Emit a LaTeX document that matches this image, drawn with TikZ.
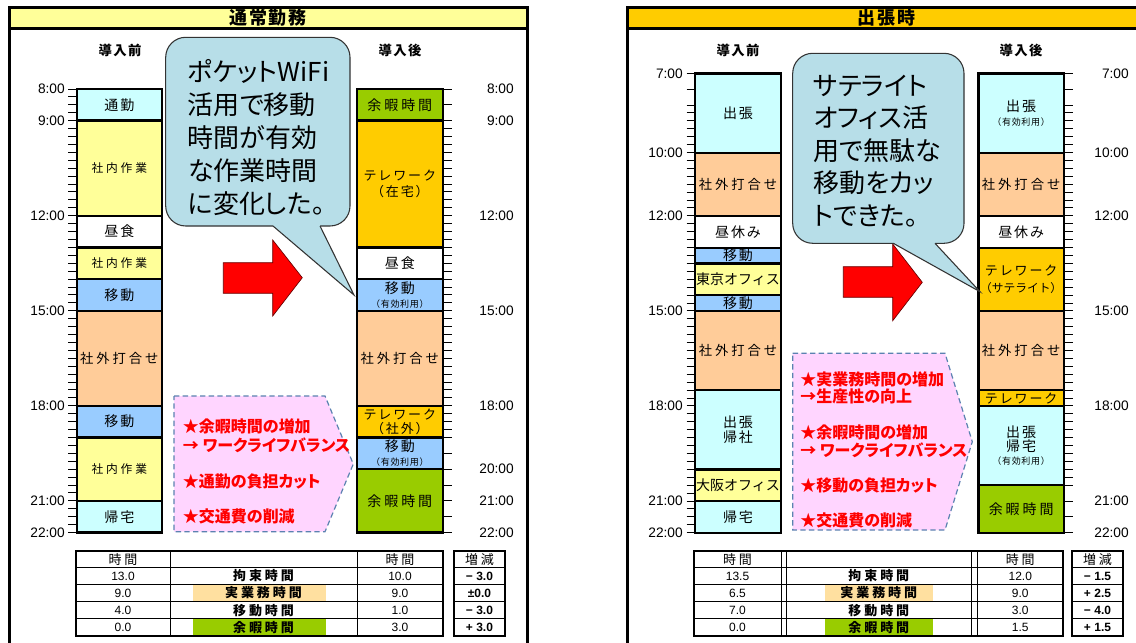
\documentclass[tikz,border=0pt]{standalone}
\usepackage{fontspec}
\setmainfont{Noto Sans CJK JP}
\newfontfamily\jpp[RawFeature=+palt]{Noto Sans CJK JP}
\newfontfamily\lib{Liberation Sans}
\definecolor{cyb}{HTML}{CCFFFF}
\definecolor{ylb}{HTML}{FFFF99}
\definecolor{blb}{HTML}{99CCFF}
\definecolor{peb}{HTML}{FFCC99}
\definecolor{orb}{HTML}{FFCC00}
\definecolor{grb}{HTML}{99CC00}
\definecolor{cal}{HTML}{B7DEE8}
\definecolor{pnk}{HTML}{FFD5FF}
\definecolor{dsh}{HTML}{5B82B0}
\definecolor{hlo}{HTML}{FFE0A0}
\definecolor{redt}{HTML}{FF0000}
\makeatletter
\newcommand\lsp[2]{\def\lsp@k{#1}\lsp@a#2\relax}
\def\lsp@a#1{\ifx\relax#1\else#1\expandafter\lsp@b\fi}
\def\lsp@b#1{\ifx\relax#1\else\kern\lsp@k\relax#1\expandafter\lsp@b\fi}
\makeatother
\newcommand\lspe[2]{\edef\lsptmp{\noexpand\lsp{#1}{#2}}\lsptmp}
\newcommand\Ta[1]{{\fontsize{10.5}{12}\selectfont\lsp{1.4pt}{#1}}}
\newcommand\Tb[1]{{\fontsize{8.8}{10}\selectfont\lsp{2.1pt}{#1}}}
\newcommand\Tc[1]{{\fontsize{10}{12}\selectfont\lsp{2.2pt}{#1}}}
\newcommand\Td[1]{{\fontsize{10.5}{12}\selectfont\lsp{2.2pt}{#1}}}
\newcommand\Te[1]{{\fontsize{9.75}{12}\selectfont\lsp{1.4pt}{#1}}}
\newcommand\Tf[1]{{\fontsize{6.75}{8}\selectfont\lsp{0.5pt}{#1}}}
\newcommand\Th[1]{{\fontsize{10.5}{12}\selectfont #1}}
\newcommand\Ti[1]{{\fontsize{8.8}{10}\selectfont #1}}
\newcommand\blk[8][]{%
  \draw[blkl,fill=#6] (#2,#4) rectangle (#3,#5);
  \node[lbl,#1] (#7) at ({(#2+#3)/2},{(#4+#5)/2}) {#8};}
\begin{document}
\begin{tikzpicture}[x=0.75pt,y=-0.75pt,
  blkl/.style={draw=black,line width=1.8pt},
  lbl/.style={inner sep=0pt,align=center,font=\fontsize{10.5}{12}\selectfont},
  frm/.style={draw=black,line width=2pt},
  tk/.style={draw=black,line width=0.7pt},
  tml/.style={inner sep=0pt,anchor=east,font=\lib\fontsize{10.3}{12}\selectfont},
  hd/.style={inner sep=0pt,font=\bfseries\fontsize{10}{12}\selectfont},
  calb/.style={fill=cal,draw=black!80,line width=0.8pt},
  calt/.style={inner sep=0pt,anchor=west,align=left},
  pent/.style={fill=pnk,draw=dsh,line width=0.9pt,dash pattern=on 4pt off 2.5pt},
  pt/.style={inner sep=0pt,anchor=west,text=redt,font=\jpp\bfseries\fontsize{12}{14}\selectfont},
  rarr/.style={fill=redt,draw=black!60!red,line width=0.5pt},
  tbo/.style={draw=black,line width=1.5pt},
  tbi/.style={draw=black,line width=0.7pt},
  tc/.style={inner sep=0pt,font=\fontsize{9.75}{11}\selectfont},
  tl/.style={inner sep=0pt,font=\bfseries\fontsize{9.75}{11}\selectfont},
  tn/.style={inner sep=0pt,font=\lib\fontsize{9}{11}\selectfont},
  tb/.style={inner sep=0pt,font=\lib\bfseries\fontsize{9}{11}\selectfont}]
\useasboundingbox (0,0) rectangle (1136,643);
\fill[white] (0,0) rectangle (1136,643);
% ---------- panels ----------
\fill[ylb] (9.5,7.5) rectangle (527.5,28.5);
\draw[frm] (9.5,643) -- (9.5,7.5) -- (527.5,7.5) -- (527.5,643);
\draw[frm] (9.5,28.5) -- (527.5,28.5);
\fill[orb] (627.5,7.5) rectangle (1136,28.5);
\draw[frm] (627.5,643) -- (627.5,7.5) -- (1140,7.5);
\draw[frm] (627.5,28.5) -- (1140,28.5);
\node[inner sep=0pt,font=\bfseries\fontsize{13.5}{15}\selectfont] (hdrL) at (268,18) {\lsp{1.5pt}{通常勤務}};
\node[inner sep=0pt,font=\bfseries\fontsize{13.5}{15}\selectfont] (hdrR) at (886,18) {\lsp{1.5pt}{出張時}};
\node[hd] (lbef) at (120,50) {\lsp{1pt}{導入前}};
\node[hd] (laft) at (400,50) {\lsp{1pt}{導入後}};
\node[hd] (rbef) at (738,50) {\lsp{1pt}{導入前}};
\node[hd] (raft) at (1021,50) {\lsp{1pt}{導入後}};
% ---------- ticks ----------
\foreach \i in {0,...,56} {\draw[tk] (68,{89+\i*7.92}) -- (76.7,{89+\i*7.92});}
\foreach \y in {89,104.84} {\draw[tk] (443,\y) -- (451.7,\y);}
\foreach \i in {0,...,40} {\draw[tk] (443,{120.68+\i*7.92}) -- (451.7,{120.68+\i*7.92});}
\foreach \i in {1,...,6} {\draw[tk] (443,{437.48+\i*15.84}) -- (451.7,{437.48+\i*15.84});}
\foreach \y in {73.3,89.15} {\draw[tk] (686.7,\y) -- (695,\y); \draw[tk] (1064,\y) -- (1073,\y);}
\foreach \i in {0,...,54} {\draw[tk] (686.7,{105+\i*7.92}) -- (695,{105+\i*7.92});}
\foreach \i in {0,...,48} {\draw[tk] (1064,{105+\i*7.92}) -- (1073,{105+\i*7.92});}
\foreach \i in {1,2,3} {\draw[tk] (1064,{485.16+\i*15.84}) -- (1073,{485.16+\i*15.84});}
% ---------- time labels ----------
\node[tml] (tl8) at (65,89) {8:00};
\node[tml] (tl9) at (65,120.68) {9:00};
\node[tml] (tl12) at (65,215.72) {12:00};
\node[tml] (tl15) at (65,310.76) {15:00};
\node[tml] (tl18) at (65,405.8) {18:00};
\node[tml] (tl21) at (65,500.84) {21:00};
\node[tml] (tl22) at (65,532.52) {22:00};
\node[tml] (tr8) at (514,89) {8:00};
\node[tml] (tr9) at (514,120.68) {9:00};
\node[tml] (tr12) at (514,215.72) {12:00};
\node[tml] (tr15) at (514,310.76) {15:00};
\node[tml] (tr18) at (514,405.8) {18:00};
\node[tml] (tr20) at (514,469.16) {20:00};
\node[tml] (tr21) at (514,500.84) {21:00};
\node[tml] (tr22) at (514,532.52) {22:00};
\foreach \t/\y [count=\k] in {7:00/73.3,10:00/152.7,12:00/216.04,15:00/311.05,18:00/406.05,21:00/501.05,22:00/532.7}{
  \node[tml] (ul\k) at (683,\y) {\t};
  \node[tml] (ur\k) at (1129,\y) {\t};}
% ---------- left panel columns ----------
\blk{76.7}{162}{89}{120.68}{cyb}{lb1}{\Ta{通勤}}
\blk{76.7}{162}{120.68}{215.72}{ylb}{lb2}{\Tb{社内作業}}
\blk{76.7}{162}{215.72}{247.4}{white}{lb3}{\Ta{昼食}}
\blk{76.7}{162}{247.4}{279.08}{ylb}{lb4}{\Tb{社内作業}}
\blk{76.7}{162}{279.08}{310.76}{blb}{lb5}{\Ta{移動}}
\blk{76.7}{162}{310.76}{405.8}{peb}{lb6}{\Tc{社外打合せ}}
\blk{76.7}{162}{405.8}{437.48}{blb}{lb7}{\Ta{移動}}
\blk{76.7}{162}{437.48}{500.84}{ylb}{lb8}{\Tb{社内作業}}
\blk{76.7}{162}{500.84}{532.52}{cyb}{lb9}{\Ta{帰宅}}
\blk{356.7}{443}{89}{120.68}{grb}{la1}{\Td{余暇時間}}
\blk[font=\fontsize{10}{12.5}\selectfont]{356.7}{443}{120.68}{247.4}{orb}{la2}{\Te{テレワーク}\\\Te{（在宅）}}
\blk{356.7}{443}{247.4}{279.08}{white}{la3}{\Ta{昼食}}
\blk[font=\fontsize{10}{10}\selectfont]{356.7}{443}{279.08}{310.76}{blb}{la4}{\Ta{移動}\\\Tf{（有効利用）}}
\blk{356.7}{443}{310.76}{405.8}{peb}{la5}{\Tc{社外打合せ}}
\blk[font=\fontsize{10}{10.7}\selectfont]{356.7}{443}{405.8}{437.48}{orb}{la6}{\Te{テレワーク}\\\Te{（社外）}}
\blk[font=\fontsize{10}{10.3}\selectfont]{356.7}{443}{437.48}{469.16}{blb}{la7}{\Ta{移動}\\\Tf{（有効利用）}}
\blk{356.7}{443}{469.16}{532.52}{grb}{la8}{\Td{余暇時間}}
% ---------- right panel columns ----------
\blk{695}{781}{73.3}{152.7}{cyb}{rb1}{\Ta{出張}}
\blk{695}{781}{152.7}{216.04}{peb}{rb2}{\Tc{社外打合せ}}
\blk{695}{781}{216.04}{247.7}{white}{rb3}{\Ta{昼休み}}
\blk{695}{781}{247.7}{263.5}{blb}{rb4}{\Ta{移動}}
\blk{695}{781}{263.5}{295.2}{ylb}{rb5}{\Th{東京オフィス}}
\blk{695}{781}{295.2}{311.05}{blb}{rb6}{\Ta{移動}}
\blk{695}{781}{311.05}{390.2}{peb}{rb7}{\Tc{社外打合せ}}
\blk[font=\fontsize{10}{11}\selectfont]{695}{781}{390.2}{469.4}{cyb}{rb8}{\Ta{出張}\\\Ta{帰社}}
\blk{695}{781}{469.4}{501.05}{ylb}{rb9}{\Th{大阪オフィス}}
\blk{695}{781}{501.05}{532.7}{cyb}{rb10}{\Ta{帰宅}}
\blk[font=\fontsize{10}{10.7}\selectfont]{978.3}{1064}{73.3}{152.7}{cyb}{ra1}{\Ta{出張}\\\Tf{（有効利用）}}
\blk{978.3}{1064}{152.7}{216.04}{peb}{ra2}{\Tc{社外打合せ}}
\blk{978.3}{1064}{216.04}{247.7}{white}{ra3}{\Ta{昼休み}}
\blk[font=\fontsize{10}{12.5}\selectfont]{978.3}{1064}{247.7}{311.05}{orb}{ra4}{\Te{テレワーク}\\\Ti{（サテライト）}}
\blk{978.3}{1064}{311.05}{390.2}{peb}{ra5}{\Tc{社外打合せ}}
\blk{978.3}{1064}{390.2}{406.05}{orb}{ra6}{\Te{テレワーク}}
\blk[font=\fontsize{10}{10.3}\selectfont]{978.3}{1064}{406.05}{485.2}{cyb}{ra7}{\Ta{出張}\\\Ta{帰宅}\\\Tf{（有効利用）}}
\blk{978.3}{1064}{485.2}{532.7}{grb}{ra8}{\Td{余暇時間}}
% ---------- red arrows ----------
\draw[rarr] (223.3,262.7) -- (272.7,262.7) -- (272.7,240) -- (302.3,277.7) -- (272.7,316) -- (272.7,293.3) -- (223.3,293.3) -- cycle;
\draw[rarr] (843.3,266.7) -- (892.7,266.7) -- (892.7,244) -- (922.3,282.3) -- (892.7,320.7) -- (892.7,297.3) -- (843.3,297.3) -- cycle;
% ---------- callouts ----------
\draw[calb,rounded corners=15pt] (165.7,37.3) rectangle (350,226);
\fill[cal] (273,222) -- (273,226) -- (354,295) -- (320,226) -- (320,222) -- cycle;
\coordinate (ctipL) at (354,295);
\draw[draw=black!80,line width=0.8pt] (273,226) -- (ctipL) -- (320,226);
\node[calt,font=\jpp\fontsize{19.5}{24.75}\selectfont] (callL) at (187.7,138) {ポケットWiFi\\活用で移動\\時間が有効\\な作業時間\\に変化した。};
\draw[calb,rounded corners=15pt] (792.7,53.3) rectangle (964,243.3);
\fill[cal] (893.3,239.3) -- (893.3,243.3) -- (980,291.7) -- (935,243.3) -- (935,239.3) -- cycle;
\coordinate (ctipR) at (980,291.7);
\draw[draw=black!80,line width=0.8pt] (893.3,243.3) -- (ctipR) -- (935,243.3);
\node[calt,font=\jpp\fontsize{19.5}{24.3}\selectfont] (callR) at (813.3,151) {サテライト\\オフィス活\\用で無駄な\\移動をカッ\\トできた。};
% ---------- pentagons ----------
\draw[pent] (174,396) -- (325,396) -- (353.3,464) -- (325,531.7) -- (174,531.7) -- cycle;
\node[pt] (pl1) at (182.7,426.7) {★余暇時間の増加};
\node[pt] (pl2) at (182.7,445.7) {→ ワークライフバランス};
\node[pt] (pl3) at (182.7,481) {★通勤の負担カット};
\node[pt] (pl4) at (182.7,516) {★交通費の削減};
\draw[pent] (792.7,353.3) -- (945,353.3) -- (972.3,441.7) -- (945,530) -- (792.7,530) -- cycle;
\node[pt] (pr1) at (800,379) {★実業務時間の増加};
\node[pt] (pr2) at (800,396.7) {→生産性の向上};
\node[pt] (pr3) at (800,432.3) {★余暇時間の増加};
\node[pt] (pr4) at (800,450) {→ ワークライフバランス};
\node[pt] (pr5) at (800,485) {★移動の負担カット};
\node[pt] (pr6) at (800,520) {★交通費の削減};
% ---------- tables ----------
\fill[hlo] (193,584.3) rectangle (326,601.7);
\fill[grb] (193,618.7) rectangle (326,636);
\fill[hlo] (825,584.3) rectangle (932.7,601.7);
\fill[grb] (825,618.7) rectangle (932.7,636);
\foreach \y in {567.7,584.3,601.7,618.7} {
  \draw[tbi] (76,\y) -- (443,\y); \draw[tbi] (454,\y) -- (505,\y);
  \draw[tbi] (694,\y) -- (1063.3,\y); \draw[tbi] (1071.7,\y) -- (1123.3,\y);}
\foreach \x in {170,357,781,786,971.7,977.3} {\draw[tbi] (\x,550.5) -- (\x,636);}
\draw[tbo] (76,550.5) rectangle (443,636);
\draw[tbo] (454,550.5) rectangle (505,636);
\draw[tbo] (694,550.5) rectangle (1063.3,636);
\draw[tbo] (1071.7,550.5) rectangle (1123.3,636);
\node[tc] (lh1) at (123,559.1) {\lsp{2pt}{時間}};
\node[tc] (lh3) at (400,559.1) {\lsp{2pt}{時間}};
\node[tc] (lh4) at (479.5,559.1) {\lsp{2pt}{増減}};
\node[tc] (rh1) at (737.5,559.1) {\lsp{2pt}{時間}};
\node[tc] (rh3) at (1020.3,559.1) {\lsp{2pt}{時間}};
\node[tc] (rh4) at (1097.5,559.1) {\lsp{2pt}{増減}};
\foreach \a/\b/\c/\d/\y [count=\r] in {13.0/拘束時間/10.0/− 3.0/576,9.0/実業務時間/9.0/±0.0/593,4.0/移動時間/1.0/− 3.0/610.2,0.0/余暇時間/3.0/+ 3.0/627.3}{
  \node[tn] (lc1\r) at (123,\y) {\a};
  \node[tl] (lc2\r) at (263.5,\y) {\lspe{2.2pt}{\b}};
  \node[tn] (lc3\r) at (400,\y) {\c};
  \node[tb] (lc4\r) at (479.5,\y) {\d};}
\foreach \a/\b/\c/\d/\y [count=\r] in {13.5/拘束時間/12.0/− 1.5/576,6.5/実業務時間/9.0/+ 2.5/593,7.0/移動時間/3.0/− 4.0/610.2,0.0/余暇時間/1.5/+ 1.5/627.3}{
  \node[tn] (rc1\r) at (737.5,\y) {\a};
  \node[tl] (rc2\r) at (878.8,\y) {\lspe{2.2pt}{\b}};
  \node[tn] (rc3\r) at (1020.3,\y) {\c};
  \node[tb] (rc4\r) at (1097.5,\y) {\d};}
\end{tikzpicture}
\end{document}
